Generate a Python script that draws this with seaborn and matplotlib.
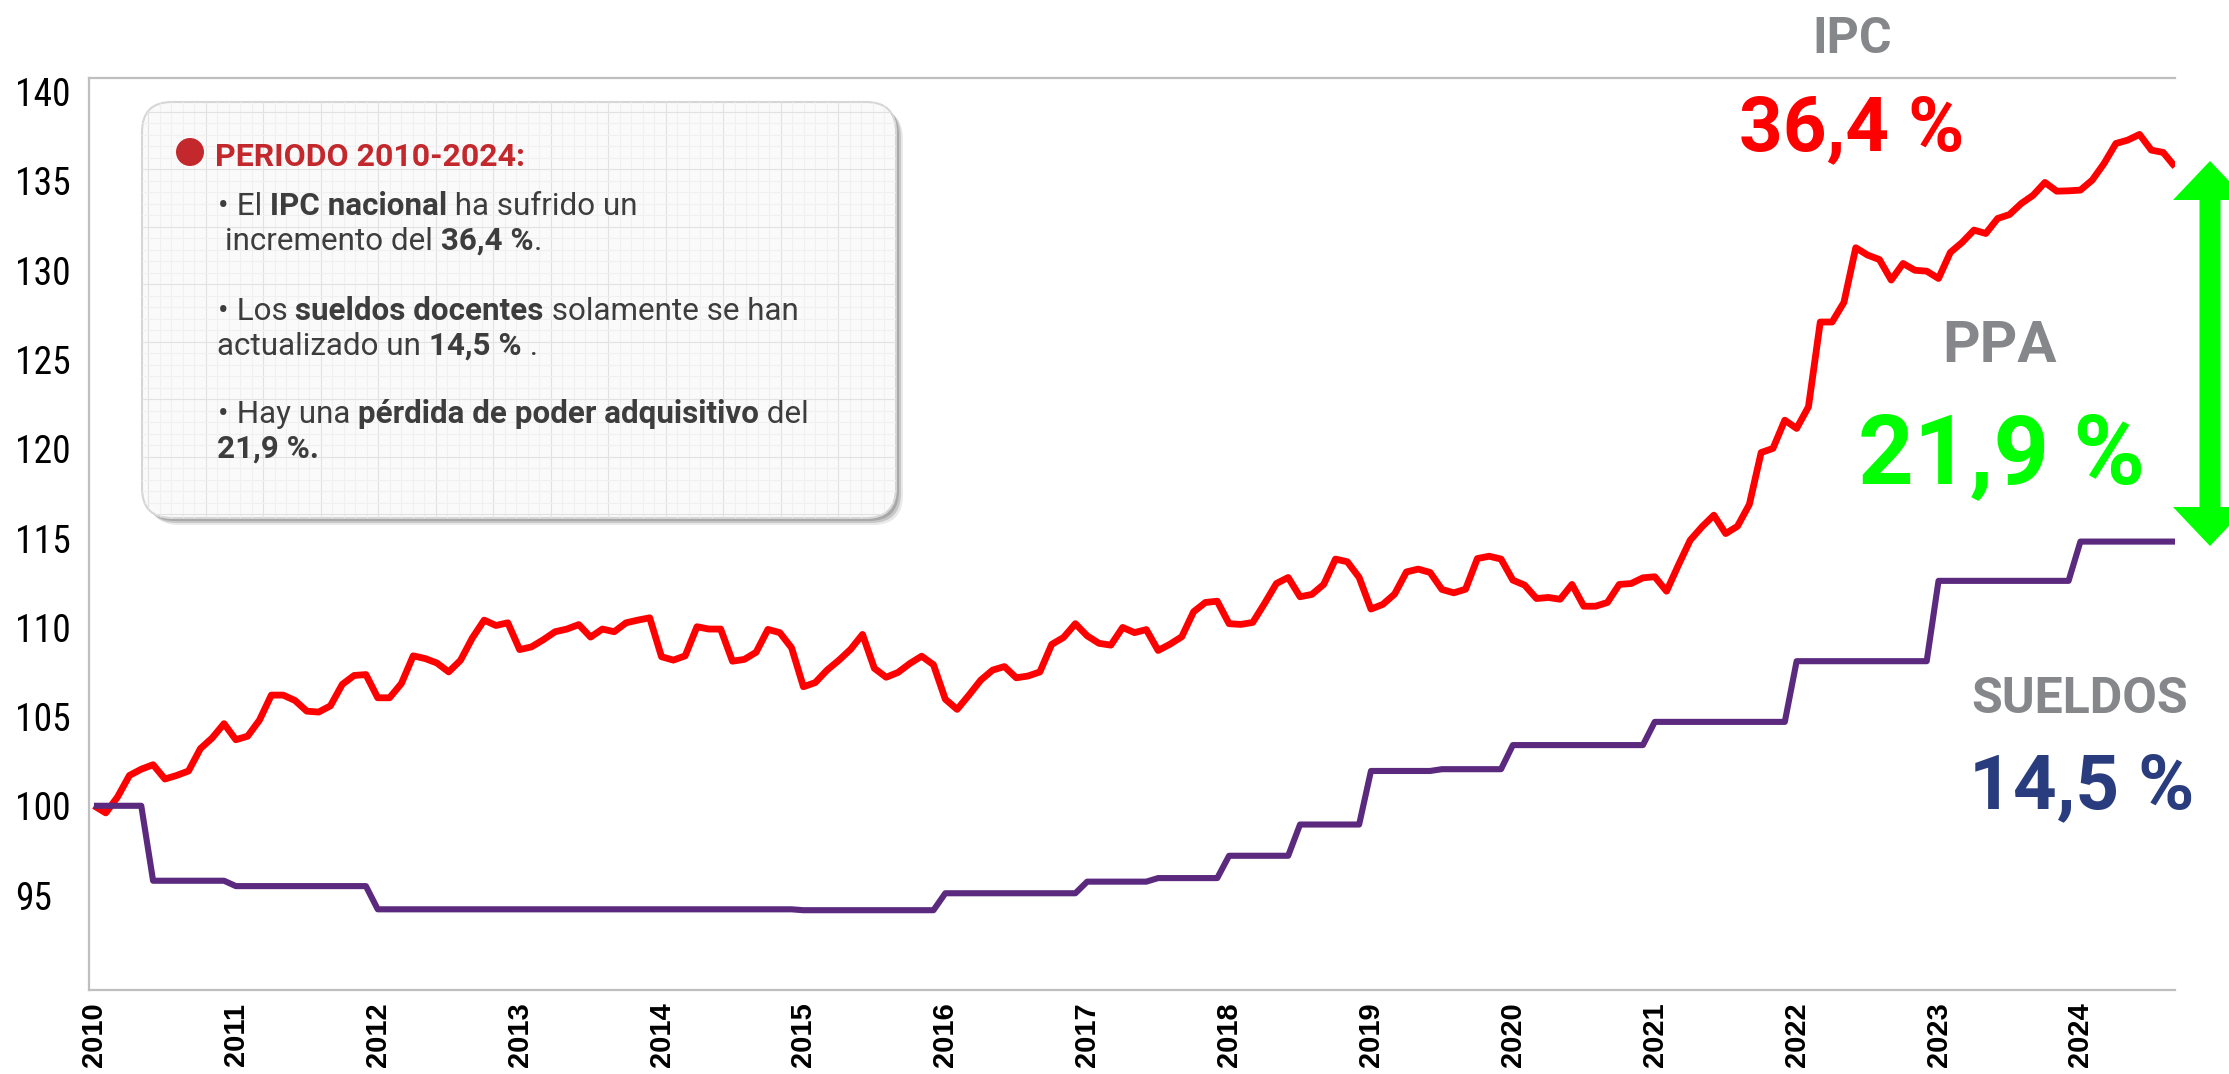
import matplotlib
matplotlib.use("Agg")
import matplotlib.pyplot as plt
import seaborn as sns
import numpy as np
import pandas as pd
from matplotlib import font_manager
from matplotlib.patches import FancyBboxPatch, Circle, Polygon
from matplotlib.lines import Line2D
from matplotlib.transforms import IdentityTransform, ScaledTranslation

# ---------------- data ----------------
years = ["2010", "2011", "2012", "2013", "2014", "2015", "2016", "2017",
         "2018", "2019", "2020", "2021", "2022", "2023", "2024"]

ipc_2010 = [100.0, 99.6, 100.5, 101.7, 102.05, 102.3, 101.5, 101.7, 101.95, 103.2, 103.8, 104.6]
ipc_2011 = [103.7, 103.9, 104.8, 106.2, 106.2, 105.9, 105.3, 105.25, 105.6, 106.8, 107.3, 107.35]
ipc_2012 = [106.05, 106.05, 106.85, 108.4, 108.25, 108.0, 107.5, 108.15, 109.4, 110.4, 110.1, 110.25]
ipc_2013 = [108.75, 108.9, 109.3, 109.75, 109.9, 110.15, 109.45, 109.9, 109.75, 110.25, 110.4, 110.53]
ipc_2014 = [108.35, 108.16, 108.4, 110.03, 109.9, 109.9, 108.1, 108.2, 108.6, 109.88, 109.7, 108.85]
ipc_2015 = [106.67, 106.9, 107.6, 108.15, 108.77, 109.6, 107.7, 107.2, 107.47, 107.97, 108.38, 107.9]
ipc_2016 = [105.97, 105.4, 106.2, 107.04, 107.6, 107.8, 107.17, 107.27, 107.5, 109.04, 109.43, 110.2]
ipc_2017 = [109.52, 109.1, 109.0, 109.99, 109.7, 109.87, 108.7, 109.05, 109.47, 110.87, 111.39, 111.46]
ipc_2018 = [110.2, 110.16, 110.27, 111.33, 112.45, 112.79, 111.71, 111.84, 112.4, 113.82, 113.67, 112.79]
ipc_2019 = [111.02, 111.28, 111.86, 113.1, 113.26, 113.07, 112.12, 111.93, 112.13, 113.85, 113.98, 113.82]
ipc_2020 = [112.64, 112.36, 111.61, 111.67, 111.57, 112.4, 111.18, 111.18, 111.39, 112.4, 112.45, 112.77]
ipc_2021 = [112.83, 112.02, 113.48, 114.88, 115.63, 116.28, 115.25, 115.66, 116.88, 119.79, 120.02, 121.6]
ipc_2022 = [121.14, 122.35, 127.1, 127.1, 128.2, 131.26, 130.85, 130.6, 129.45, 130.38, 130.0, 129.95]
ipc_2023 = [129.54, 131.0, 131.56, 132.25, 132.06, 132.9, 133.12, 133.74, 134.2, 134.92, 134.43, 134.45]
ipc_2024 = [134.49, 135.05, 135.98, 137.1, 137.29, 137.61, 136.73, 136.6, 135.8]

sueldos_2010 = [100, 100, 100, 100, 100, 95.8, 95.8, 95.8, 95.8, 95.8, 95.8, 95.8]
sueldos_2011 = [95.5, 95.5, 95.5, 95.5, 95.5, 95.5, 95.5, 95.5, 95.5, 95.5, 95.5, 95.5]
sueldos_2012 = [94.2, 94.2, 94.2, 94.2, 94.2, 94.2, 94.2, 94.2, 94.2, 94.2, 94.2, 94.2]
sueldos_2013 = [94.2, 94.2, 94.2, 94.2, 94.2, 94.2, 94.2, 94.2, 94.2, 94.2, 94.2, 94.2]
sueldos_2014 = [94.2, 94.2, 94.2, 94.2, 94.2, 94.2, 94.2, 94.2, 94.2, 94.2, 94.2, 94.2]
sueldos_2015 = [94.15, 94.15, 94.15, 94.15, 94.15, 94.15, 94.15, 94.15, 94.15, 94.15, 94.15, 94.15]
sueldos_2016 = [95.1, 95.1, 95.1, 95.1, 95.1, 95.1, 95.1, 95.1, 95.1, 95.1, 95.1, 95.1]
sueldos_2017 = [95.75, 95.75, 95.75, 95.75, 95.75, 95.75, 95.95, 95.95, 95.95, 95.95, 95.95, 95.95]
sueldos_2018 = [97.2, 97.2, 97.2, 97.2, 97.2, 97.2, 98.95, 98.95, 98.95, 98.95, 98.95, 98.95]
sueldos_2019 = [101.95, 101.95, 101.95, 101.95, 101.95, 101.95, 102.05, 102.05, 102.05, 102.05, 102.05, 102.05]
sueldos_2020 = [103.4, 103.4, 103.4, 103.4, 103.4, 103.4, 103.4, 103.4, 103.4, 103.4, 103.4, 103.4]
sueldos_2021 = [104.7, 104.7, 104.7, 104.7, 104.7, 104.7, 104.7, 104.7, 104.7, 104.7, 104.7, 104.7]
sueldos_2022 = [108.1, 108.1, 108.1, 108.1, 108.1, 108.1, 108.1, 108.1, 108.1, 108.1, 108.1, 108.1]
sueldos_2023 = [112.6, 112.6, 112.6, 112.6, 112.6, 112.6, 112.6, 112.6, 112.6, 112.6, 112.6, 112.6]
sueldos_2024 = [114.8, 114.8, 114.8, 114.8, 114.8, 114.8, 114.8, 114.8, 114.8]

ytick_values = [95, 100, 105, 110, 115, 120, 125, 130, 135, 140]

ipc = (ipc_2010 + ipc_2011 + ipc_2012 + ipc_2013 + ipc_2014 + ipc_2015 + ipc_2016 +
       ipc_2017 + ipc_2018 + ipc_2019 + ipc_2020 + ipc_2021 + ipc_2022 + ipc_2023 + ipc_2024)
sueldos = (sueldos_2010 + sueldos_2011 + sueldos_2012 + sueldos_2013 + sueldos_2014 +
           sueldos_2015 + sueldos_2016 + sueldos_2017 + sueldos_2018 + sueldos_2019 +
           sueldos_2020 + sueldos_2021 + sueldos_2022 + sueldos_2023 + sueldos_2024)

df = pd.DataFrame({"mes": np.arange(len(ipc)), "IPC": ipc, "Sueldos": sueldos})

# ---------------- style ----------------
sns.set_theme(style="white")
plt.rcParams["font.family"] = ["Roboto", "DejaVu Sans"]

entries = font_manager.fontManager.ttflist
names = {f.name for f in entries}
YFONT, YSIZE, YSTRETCH = "Roboto", 25, "normal"
for cand in ["Liberation Sans Narrow", "Roboto Condensed", "Open Sans Condensed",
             "DejaVu Sans Condensed", "Noto Sans Condensed"]:
    if cand in names:
        YFONT, YSIZE = cand, 27
        break
else:
    for f in entries:
        if f.name == "DejaVu Sans" and str(f.stretch) in ("condensed", "semi-condensed"):
            YFONT, YSIZE, YSTRETCH = "DejaVu Sans", 24, "condensed"
            break
XFONT = "Liberation Sans" if "Liberation Sans" in names else "DejaVu Sans"

W, H = 2229, 1074
fig = plt.figure(figsize=(W / 100, H / 100), dpi=100)
ax = fig.add_axes([89 / W, 1 - 990 / H, (2175 - 89) / W, (990 - 78) / H])
ax.set_facecolor("white")

RED = "#FF0000"
PURPLE = "#5B2A7E"
sns.lineplot(data=df, x="mes", y="IPC", color=RED, lw=4.9, ax=ax, zorder=3,
             solid_joinstyle="round", solid_capstyle="butt")
sns.lineplot(data=df, x="mes", y="Sueldos", color=PURPLE, lw=4.4, ax=ax, zorder=4,
             solid_joinstyle="round", solid_capstyle="butt")

ax.set_xlim(-0.42, 176.0)
ax.set_ylim(89.68, 140.77)
ax.set_xlabel("")
ax.set_ylabel("")
ax.grid(False)

ax.set_xticks(np.arange(0, 12 * len(years), 12))
ax.set_xticklabels(years, rotation=90, fontsize=21, family=XFONT, fontweight="bold",
                   color="black")
shift = ScaledTranslation(4 / 100, 0, fig.dpi_scale_trans)
for lab in ax.get_xticklabels():
    lab.set_transform(lab.get_transform() + shift)
ax.set_yticks(ytick_values)
ax.set_yticklabels([str(v) for v in ytick_values], fontsize=YSIZE, family=YFONT,
                   fontstretch=YSTRETCH, color="black")
for lab in ax.get_yticklabels():
    lab.set_horizontalalignment("left")
ax.tick_params(axis="x", length=0, pad=9)
ax.tick_params(axis="y", length=0, pad=53)

for side in ["left", "top", "bottom"]:
    ax.spines[side].set_color("#BFBFBF")
    ax.spines[side].set_linewidth(1.6)
ax.spines["right"].set_visible(False)

I = IdentityTransform()

# ---------------- info box ----------------
bx0, bx1 = 142, 896
by_top, by_bot = 102, 518
bw, bh = bx1 - bx0, by_bot - by_top
for off, alpha in [(7, 0.18), (5, 0.35), (3, 0.5)]:
    sh = FancyBboxPatch((bx0 + off, H - by_bot - off), bw, bh,
                        boxstyle="round,pad=0,rounding_size=30", transform=I,
                        facecolor="#8a8a8a", edgecolor="none", alpha=alpha, zorder=5)
    fig.add_artist(sh)
box = FancyBboxPatch((bx0, H - by_bot), bw, bh, boxstyle="round,pad=0,rounding_size=30",
                     transform=I, facecolor="#FAFAFA", edgecolor="#D6D6D6", lw=1.5, zorder=6)
fig.add_artist(box)
k = 0
for gx in np.arange(bx0 + 6, bx1, 11.5):
    ln = Line2D([gx, gx], [H - by_bot, H - by_top], transform=I,
                color="#E2E2E2" if k % 5 == 0 else "#F0F0F0", lw=0.8, zorder=6.5)
    ln.set_clip_path(box)
    fig.add_artist(ln)
    k += 1
k = 0
for gy in np.arange(H - by_bot + 4, H - by_top, 11.5):
    ln = Line2D([bx0, bx1], [gy, gy], transform=I,
                color="#E2E2E2" if k % 5 == 0 else "#F0F0F0", lw=0.8, zorder=6.5)
    ln.set_clip_path(box)
    fig.add_artist(ln)
    k += 1

fig.add_artist(Circle((190, H - 152), 14, transform=I, facecolor="#C3282D",
                      edgecolor="none", zorder=7))
fig.text(215, H - 166, "PERIODO 2010-2024:", transform=I, fontsize=23, fontweight="bold",
         color="#C3282D", family="Roboto", va="baseline", ha="left", zorder=7)

renderer = fig.canvas.get_renderer()
TXT = "#3D3D3D"


def rich(x, ybase, parts, size=22.6):
    xd = x
    for txt, bold in parts:
        t = fig.text(xd, H - ybase, txt, transform=I, fontsize=size,
                     fontweight="bold" if bold else "normal", family="Roboto",
                     color=TXT, va="baseline", ha="left", zorder=7)
        bb = t.get_window_extent(renderer)
        xd = bb.x1


rich(218, 215, [("•", False), (" El", False), (" IPC nacional", True), (" ha sufrido un", False)])
rich(225, 250, [("incremento del", False), (" 36,4 %", True), (".", False)])
rich(218, 320, [("•", False), (" Los", False), (" sueldos docentes", True),
                (" solamente se han", False)])
rich(217, 355, [("actualizado un", False), (" 14,5 %", True), (" .", False)])
rich(218, 423, [("•", False), (" Hay una", False), (" pérdida de poder adquisitivo", True),
                (" del", False)])
rich(217, 458, [("21,9 %.", True)])

# ---------------- right annotations ----------------
GRAY = "#86878B"
fig.text(1852, H - 53, "IPC", transform=I, fontsize=36, fontweight="bold", color=GRAY,
         family="Roboto", ha="center", va="baseline")
fig.text(1852, H - 150, "36,4 %", transform=I, fontsize=55, fontweight="bold", color=RED,
         family="Roboto", ha="center", va="baseline")
fig.text(2000, H - 362, "PPA", transform=I, fontsize=42, fontweight="bold", color=GRAY,
         family="Roboto", ha="center", va="baseline")
fig.text(2002, H - 483, "21,9 %", transform=I, fontsize=70, fontweight="bold", color="#00FF00",
         family="Roboto", ha="center", va="baseline")
fig.text(2080, H - 713, "SUELDOS", transform=I, fontsize=36, fontweight="bold", color=GRAY,
         family="Roboto", ha="center", va="baseline")
fig.text(2082, H - 808, "14,5 %", transform=I, fontsize=55, fontweight="bold", color="#283C7E",
         family="Roboto", ha="center", va="baseline")

# double arrow (PPA gap)
cx, ytip_top, ytip_bot = 2210, H - 161, H - 546
hl, hw, sw = 39, 37, 10.5
arrow = Polygon([(cx, ytip_top), (cx + hw, ytip_top - hl), (cx + sw, ytip_top - hl),
                 (cx + sw, ytip_bot + hl), (cx + hw, ytip_bot + hl), (cx, ytip_bot),
                 (cx - hw, ytip_bot + hl), (cx - sw, ytip_bot + hl), (cx - sw, ytip_top - hl),
                 (cx - hw, ytip_top - hl)], closed=True, transform=I,
                facecolor="#00FF00", edgecolor="none", zorder=8)
fig.add_artist(arrow)

fig.savefig("out.png", dpi=100, facecolor="white")
